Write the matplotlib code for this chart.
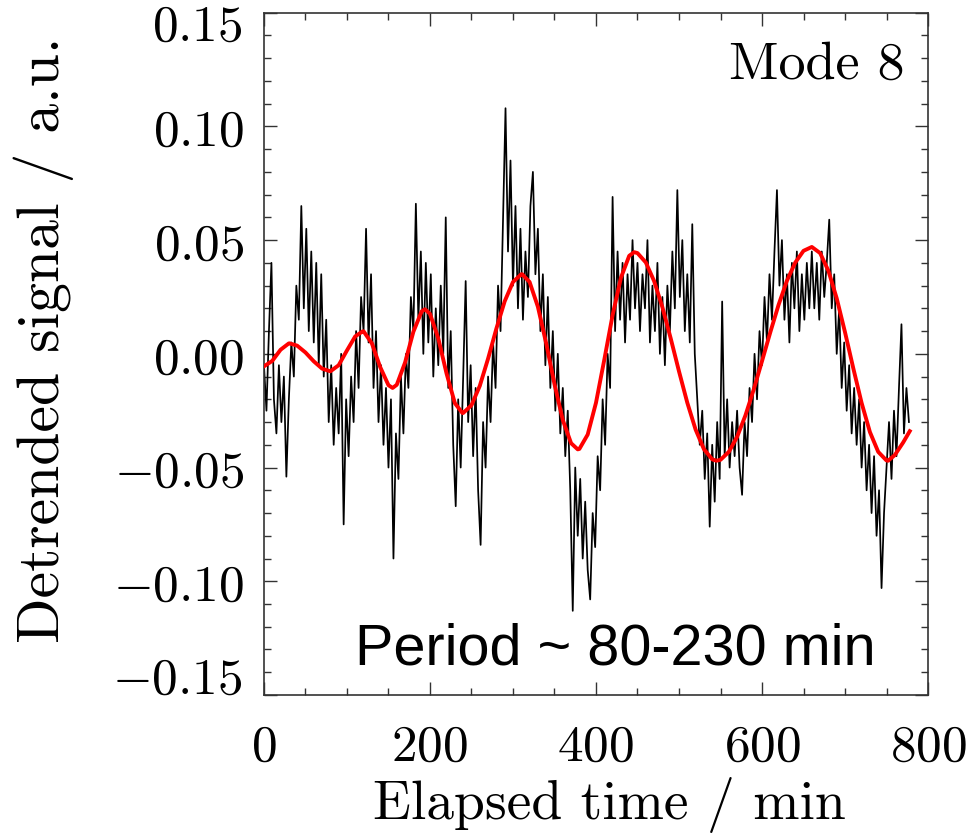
import numpy as np
import matplotlib
matplotlib.use("Agg")
import matplotlib.pyplot as plt
from matplotlib.ticker import MultipleLocator
from matplotlib.transforms import blended_transform_factory

plt.rcParams["mathtext.fontset"] = "cm"

# Detrended signal sampled every 3 min (0 ... 777 min)
signal_step = 3
signal = [
    -0.005, -0.025, 0.010, 0.040, -0.020, -0.035, -0.005, -0.030, -0.010, -0.054,
    -0.020, 0.005, -0.010, 0.030, 0.015, 0.065, 0.020, 0.055, 0.010, 0.045,
    0.005, 0.040, -0.005, 0.035, -0.010, 0.015, -0.030, -0.005, -0.040, -0.015,
    -0.035, 0.000, -0.075, -0.020, -0.045, -0.010, -0.030, 0.010, -0.015, 0.025,
    0.010, 0.055, 0.005, 0.035, -0.015, 0.010, -0.030, -0.005, -0.040, -0.015,
    -0.050, -0.020, -0.090, -0.035, -0.055, -0.010, -0.035, 0.000, -0.015, 0.025,
    0.010, 0.066, 0.015, 0.045, 0.000, 0.040, 0.005, 0.035, -0.010, 0.020,
    -0.005, 0.030, 0.000, 0.060, -0.015, 0.010, -0.040, -0.067, -0.020, -0.050,
    -0.010, 0.032, -0.030, -0.005, -0.045, -0.015, -0.060, -0.084, -0.030, -0.050,
    -0.010, -0.030, 0.005, -0.015, 0.030, 0.010, 0.060, 0.108, 0.045, 0.085,
    0.030, 0.065, 0.020, 0.055, 0.015, 0.045, 0.025, 0.065, 0.080, 0.035,
    0.055, 0.010, 0.035, -0.005, 0.025, -0.015, 0.010, -0.025, 0.000, -0.035,
    -0.015, -0.045, -0.025, -0.060, -0.113, -0.050, -0.080, -0.055, -0.090, -0.065,
    -0.095, -0.108, -0.070, -0.085, -0.045, -0.060, -0.020, -0.040, 0.000, -0.015,
    0.069, 0.010, 0.045, 0.015, 0.040, 0.005, 0.035, 0.015, 0.050, 0.020,
    0.040, 0.010, 0.035, 0.020, 0.050, 0.005, 0.030, 0.010, 0.040, 0.000,
    0.025, -0.005, 0.030, 0.010, 0.045, 0.020, 0.072, 0.025, 0.050, 0.010,
    0.035, 0.005, 0.057, 0.000, -0.020, -0.040, -0.025, -0.055, -0.035, -0.076,
    -0.040, -0.065, -0.030, -0.055, 0.023, -0.045, -0.020, -0.050, -0.030, -0.045,
    -0.025, -0.050, -0.062, -0.030, -0.045, -0.015, -0.030, 0.000, -0.020, 0.010,
    -0.005, 0.025, 0.005, 0.035, 0.015, 0.045, 0.072, 0.030, 0.050, 0.015,
    0.035, 0.005, 0.040, 0.020, 0.045, 0.010, 0.035, 0.015, 0.040, 0.020,
    0.045, 0.020, 0.040, 0.015, 0.045, 0.025, 0.040, 0.059, 0.020, 0.035,
    0.000, 0.020, -0.015, 0.005, -0.025, -0.005, -0.035, -0.015, -0.040, -0.020,
    -0.050, -0.030, -0.060, -0.040, -0.070, -0.045, -0.080, -0.060, -0.103, -0.070,
    -0.050, -0.030, -0.055, -0.025, -0.045, -0.015, 0.013, -0.035, -0.015, -0.030,
]
signal_time = np.arange(len(signal)) * signal_step

# Mode 8 reconstruction
mode_time = [0, 10, 20, 30, 31, 40, 50, 60, 70, 80, 90, 100, 110, 119, 120, 130,
             140, 150, 155, 160, 170, 180, 190, 194, 200, 210, 220, 230, 239, 240,
             250, 260, 270, 280, 290, 300, 310, 311, 320, 330, 340, 350, 360, 370,
             378, 380, 390, 400, 410, 420, 430, 440, 446, 450, 460, 470, 480, 490,
             500, 510, 520, 530, 540, 545, 550, 560, 570, 580, 590, 600, 610, 620,
             630, 640, 650, 660, 670, 680, 690, 700, 710, 720, 730, 740, 750, 752,
             760, 770, 778]
mode_value = [-0.0055, -0.0031, 0.0018, 0.0046, 0.0046, 0.0036, 0.0006, -0.0033,
              -0.0065, -0.0077, -0.0050, 0.0015, 0.0077, 0.0099, 0.0099, 0.0046,
              -0.0058, -0.0138, -0.0150, -0.0136, -0.0038, 0.0097, 0.0187, 0.0196,
              0.0176, 0.0068, -0.0087, -0.0217, -0.0260, -0.0260, -0.0226, -0.0141,
              -0.0021, 0.0111, 0.0231, 0.0316, 0.0350, 0.0350, 0.0316, 0.0207,
              0.0046, -0.0133, -0.0291, -0.0393, -0.0420, -0.0418, -0.0355, -0.0215,
              -0.0026, 0.0170, 0.0334, 0.0431, 0.0447, 0.0443, 0.0402, 0.0320,
              0.0205, 0.0068, -0.0077, -0.0215, -0.0333, -0.0419, -0.0464, -0.0470,
              -0.0466, -0.0431, -0.0365, -0.0271, -0.0157, -0.0032, 0.0095, 0.0216,
              0.0321, 0.0401, 0.0453, 0.0470, 0.0443, 0.0365, 0.0244, 0.0095,
              -0.0064, -0.0216, -0.0344, -0.0431, -0.0469, -0.0470, -0.0445, -0.0390,
              -0.0340]

x_ticks = [0, 200, 400, 600, 800]
x_tick_labels = [r"$0$", r"$200$", r"$400$", r"$600$", r"$800$"]
y_ticks = [-0.15, -0.10, -0.05, 0.00, 0.05, 0.10, 0.15]
y_tick_labels = [r"$-0.15$", r"$-0.10$", r"$-0.05$", r"$0.00$",
                 r"$0.05$", r"$0.10$", r"$0.15$"]

fig = plt.figure(figsize=(9.78, 8.36), dpi=100)
ax = fig.add_axes([0.2699, 0.1687, 0.6790, 0.8161])

ax.plot(signal_time, signal, color="black", lw=1.25, zorder=2)
ax.plot(mode_time, mode_value, color="#ff0000", lw=2.8, zorder=3,
        solid_joinstyle="round")

ax.set_xlim(0, 800)
ax.set_ylim(-0.15, 0.15)
ax.set_xticks(x_ticks, x_tick_labels)
# the outermost y labels sit just inside the frame, drawn separately below
ax.set_yticks(y_ticks, [""] + y_tick_labels[1:-1] + [""])
ax.xaxis.set_minor_locator(MultipleLocator(50))
ax.yaxis.set_minor_locator(MultipleLocator(0.01))

spine_color = "#333333"
for sp in ax.spines.values():
    sp.set_color(spine_color)
    sp.set_linewidth(1.2)
ax.tick_params(which="both", direction="in", top=True, right=True,
               color=spine_color, width=1.0, labelsize=37)
ax.tick_params(which="major", length=9.5)
ax.tick_params(which="minor", length=5)
ax.tick_params(axis="x", which="major", pad=19)
ax.tick_params(axis="y", which="major", pad=14)

edge_tf = blended_transform_factory(ax.transAxes, ax.transData)
ax.text(-0.0316, 0.1462, y_tick_labels[-1], transform=edge_tf, ha="right",
        va="center_baseline", fontsize=37)
ax.text(-0.0316, -0.1410, y_tick_labels[0], transform=edge_tf, ha="right",
        va="center_baseline", fontsize=37)

ax.text(0.9654, 0.904, "Mode 8", transform=ax.transAxes, ha="right",
        va="baseline", fontsize=39, family="cmr10")
ax.text(0.137, 0.044, "Period ~ 80-230 min", transform=ax.transAxes,
        ha="left", va="baseline", fontsize=41.5, family="Liberation Sans")

fig.text(0.6227, 0.020, "Elapsed time / min", ha="center", va="baseline",
         fontsize=40, family="cmr10")
fig.text(0.045, 0.594, "Detrended signal / a.u.", ha="center", va="center",
         rotation=90, fontsize=43, family="cmr10")

fig.savefig("out.png", dpi=100)
